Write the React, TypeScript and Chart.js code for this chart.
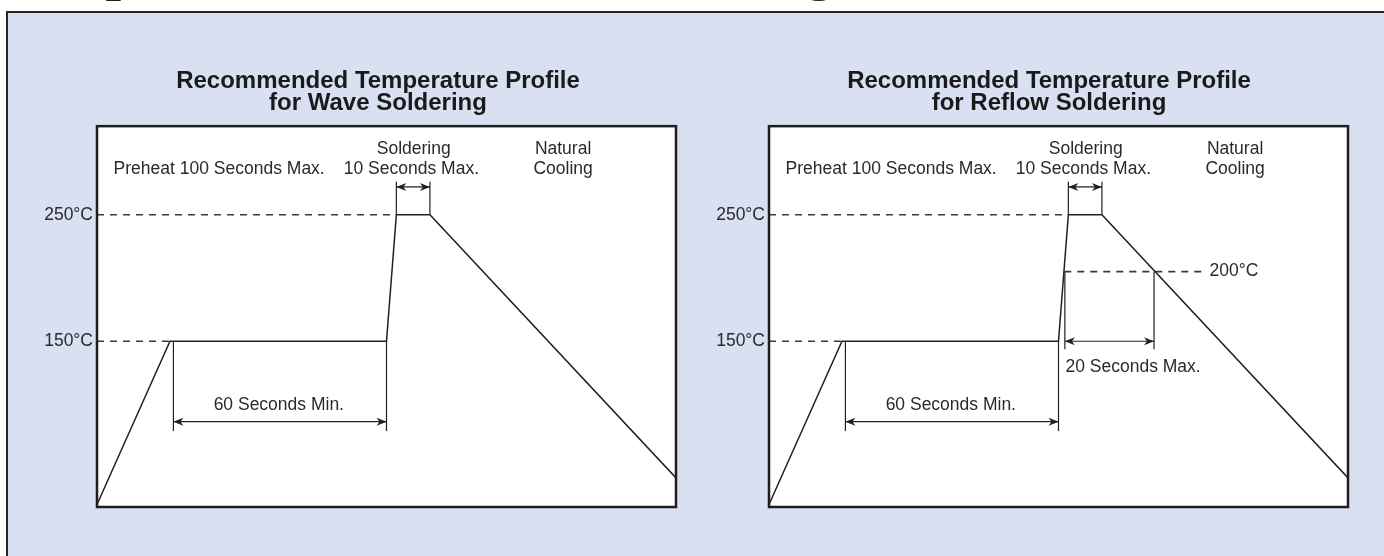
import React, { useEffect, useRef } from "react";
import { Chart, registerables } from "chart.js";

Chart.register(...registerables);

// ---- data (schematic time units 0–100 across the plot, temperature in °C) ----
const PROFILE_TIME = [0, 12.6, 50.0, 51.7, 57.5, 100];
const PROFILE_TEMP = [21, 150, 150, 250, 250, 42];

const TEMP_TICKS = [150, 250];
const TEMP_MIN = 19;
const TEMP_MAX = 320;
const TIME_MIN = 0;
const TIME_MAX = 100;

const PREHEAT_LEVEL = 150;
const PEAK_LEVEL = 250;
const REFLOW_LEVEL = 205; // the "200°C" guide as drawn in the schematic

// guide (dashed) lines: [x1, x2] at a level
const PREHEAT_GUIDE_TIME = [0, 12.4];
const PEAK_GUIDE_TIME = [0, 51.7];
const REFLOW_GUIDE_TIME = [51.0, 75.1];

// dimension extension lines
const DWELL_EXT_TIME = [13.2, 50.0];
const DWELL_EXT_TEMP = [150, 79];
const DWELL_ARROW_TEMP = 86.4;
const SOLDER_EXT_TIME = [51.7, 57.5];
const SOLDER_EXT_TEMP = [250, 276];
const SOLDER_ARROW_TEMP = 272;
const REFLOW_EXT_TIME = [51.1, 66.5];
const REFLOW_EXT_TEMP = [205, 143.6];
const REFLOW_ARROW_TEMP = 150;

const TITLE_LINE_1 = "Recommended Temperature Profile";
const WAVE_TITLE_2 = "for Wave Soldering";
const REFLOW_TITLE_2 = "for Reflow Soldering";

const FONT = "'Liberation Sans', Arial, Helvetica, sans-serif";
const INK = "#231f20";
const TEXT = "#2a2a2a";

type Label = { text: string; x: number; y: number; align: CanvasTextAlign };
type Arrow = { x1: number; x2: number; y: number };
type Line = { xs: number[]; ys: number[]; dashed?: boolean };

const COMMON_LABELS: Label[] = [
  { text: "Preheat 100 Seconds Max.", x: 21.1, y: 286, align: "center" },
  { text: "Soldering", x: 54.7, y: 301.8, align: "center" },
  { text: "10 Seconds Max.", x: 54.3, y: 286, align: "center" },
  { text: "Natural", x: 80.5, y: 301.8, align: "center" },
  { text: "Cooling", x: 80.5, y: 286, align: "center" },
  { text: "60 Seconds Min.", x: 31.4, y: 99.6, align: "center" },
];

const COMMON_LINES: Line[] = [
  { xs: PREHEAT_GUIDE_TIME, ys: [PREHEAT_LEVEL, PREHEAT_LEVEL], dashed: true },
  { xs: PEAK_GUIDE_TIME, ys: [PEAK_LEVEL, PEAK_LEVEL], dashed: true },
  { xs: [DWELL_EXT_TIME[0], DWELL_EXT_TIME[0]], ys: DWELL_EXT_TEMP },
  { xs: [DWELL_EXT_TIME[1], DWELL_EXT_TIME[1]], ys: DWELL_EXT_TEMP },
  { xs: [SOLDER_EXT_TIME[0], SOLDER_EXT_TIME[0]], ys: SOLDER_EXT_TEMP },
  { xs: [SOLDER_EXT_TIME[1], SOLDER_EXT_TIME[1]], ys: SOLDER_EXT_TEMP },
];

const COMMON_ARROWS: Arrow[] = [
  { x1: DWELL_EXT_TIME[0], x2: DWELL_EXT_TIME[1], y: DWELL_ARROW_TEMP },
  { x1: SOLDER_EXT_TIME[0], x2: SOLDER_EXT_TIME[1], y: SOLDER_ARROW_TEMP },
];

const REFLOW_LINES: Line[] = [
  { xs: REFLOW_GUIDE_TIME, ys: [REFLOW_LEVEL, REFLOW_LEVEL], dashed: true },
  { xs: [REFLOW_EXT_TIME[0], REFLOW_EXT_TIME[0]], ys: REFLOW_EXT_TEMP },
  { xs: [REFLOW_EXT_TIME[1], REFLOW_EXT_TIME[1]], ys: REFLOW_EXT_TEMP },
];
const REFLOW_ARROWS: Arrow[] = [
  { x1: REFLOW_EXT_TIME[0], x2: REFLOW_EXT_TIME[1], y: REFLOW_ARROW_TEMP },
];
const REFLOW_LABELS: Label[] = [
  { text: "200°C", x: 76.1, y: REFLOW_LEVEL, align: "left" },
  { text: "20 Seconds Max.", x: 51.2, y: 129.8, align: "left" },
];

const tempLabel = (v: number) => `${v}°C`;

function pts(xs: number[], ys: number[]) {
  return xs.map((x, i) => ({ x, y: ys[i] }));
}

function drawArrow(ctx: CanvasRenderingContext2D, xa: number, xb: number, y: number) {
  const head = 10;
  const half = 4;
  ctx.beginPath();
  ctx.moveTo(xa, y);
  ctx.lineTo(xb, y);
  ctx.stroke();
  ctx.beginPath();
  ctx.moveTo(xa, y);
  ctx.lineTo(xa + head, y - half);
  ctx.lineTo(xa + head * 0.7, y);
  ctx.lineTo(xa + head, y + half);
  ctx.closePath();
  ctx.fill();
  ctx.beginPath();
  ctx.moveTo(xb, y);
  ctx.lineTo(xb - head, y - half);
  ctx.lineTo(xb - head * 0.7, y);
  ctx.lineTo(xb - head, y + half);
  ctx.closePath();
  ctx.fill();
}

type Spec = {
  title2: string;
  lines: Line[];
  arrows: Arrow[];
  labels: Label[];
  padLeft: number;
  axisWidth: number;
};

function buildChart(canvas: HTMLCanvasElement, spec: Spec) {
  const datasets: any[] = [
    {
      data: pts(PROFILE_TIME, PROFILE_TEMP),
      showLine: true,
      borderColor: INK,
      borderWidth: 1.5,
      pointRadius: 0,
      tension: 0,
    },
    ...spec.lines.map((l) => ({
      data: pts(l.xs, l.ys),
      showLine: true,
      borderColor: l.dashed ? "#3a3a3a" : INK,
      borderWidth: l.dashed ? 1.6 : 1.2,
      borderDash: l.dashed ? [7, 6] : [],
      pointRadius: 0,
    })),
  ];

  const schematic = {
    id: "schematic",
    beforeDraw(chart: any) {
      const { ctx, chartArea: a } = chart;
      ctx.save();
      ctx.fillStyle = "#ffffff";
      ctx.fillRect(a.left, a.top, a.right - a.left, a.bottom - a.top);
      ctx.restore();
    },
    afterDraw(chart: any) {
      const { ctx, chartArea: a, scales } = chart;
      const xs = scales.x;
      const ys = scales.y;
      ctx.save();
      ctx.strokeStyle = INK;
      ctx.fillStyle = INK;
      ctx.lineWidth = 1.2;
      for (const ar of spec.arrows) {
        drawArrow(ctx, xs.getPixelForValue(ar.x1), xs.getPixelForValue(ar.x2), ys.getPixelForValue(ar.y));
      }
      ctx.fillStyle = TEXT;
      ctx.font = `17.5px ${FONT}`;
      ctx.textBaseline = "middle";
      for (const lb of spec.labels) {
        ctx.textAlign = lb.align;
        ctx.fillText(lb.text, xs.getPixelForValue(lb.x), ys.getPixelForValue(lb.y));
      }
      // temperature tick labels, placed by the y scale
      ctx.textAlign = "right";
      for (const t of ys.ticks) {
        ctx.fillText(tempLabel(t.value), a.left - 4, ys.getPixelForValue(t.value));
      }
      ctx.lineWidth = 2.5;
      ctx.strokeStyle = "#1e1e1e";
      ctx.strokeRect(a.left, a.top, a.right - a.left, a.bottom - a.top);
      ctx.restore();
    },
  };

  return new Chart(canvas, {
    type: "scatter",
    data: { datasets },
    plugins: [schematic],
    options: {
      animation: false,
      responsive: false,
      events: [],
      layout: { padding: { left: spec.padLeft, right: 30, top: 0, bottom: 3 } },
      plugins: {
        legend: { display: false },
        tooltip: { enabled: false },
        title: {
          display: true,
          text: [TITLE_LINE_1, spec.title2],
          color: "#1a1a1a",
          font: { family: FONT, size: 24, weight: "bold", lineHeight: 0.92 },
          padding: { top: 20, bottom: 12 },
        },
      },
      scales: {
        x: {
          type: "linear",
          min: TIME_MIN,
          max: TIME_MAX,
          display: false,
        },
        y: {
          type: "linear",
          min: TEMP_MIN,
          max: TEMP_MAX,
          grid: { display: false, drawTicks: false },
          border: { display: false },
          afterBuildTicks: (scale: any) => {
            scale.ticks = TEMP_TICKS.map((v) => ({ value: v }));
          },
          afterFit: (scale: any) => {
            scale.width = spec.axisWidth;
          },
          ticks: { display: false },
        },
      },
    } as any,
  });
}

export default function App() {
  const waveRef = useRef<HTMLCanvasElement>(null);
  const reflowRef = useRef<HTMLCanvasElement>(null);

  useEffect(() => {
    document.body.style.margin = "0";
    const a = buildChart(waveRef.current!, {
      title2: WAVE_TITLE_2,
      lines: COMMON_LINES,
      arrows: COMMON_ARROWS,
      labels: COMMON_LABELS,
      padLeft: 64,
      axisWidth: 17,
    });
    const b = buildChart(reflowRef.current!, {
      title2: REFLOW_TITLE_2,
      lines: [...COMMON_LINES, ...REFLOW_LINES],
      arrows: [...COMMON_ARROWS, ...REFLOW_ARROWS],
      labels: [...COMMON_LABELS, ...REFLOW_LABELS],
      padLeft: 62,
      axisWidth: 19,
    });
    return () => {
      a.destroy();
      b.destroy();
    };
  }, []);

  return (
    <div
      style={{
        position: "fixed",
        left: 0,
        top: 0,
        width: 1384,
        height: 556,
        overflow: "hidden",
        background: "#ffffff",
      }}
    >
      <div
        style={{
          position: "absolute",
          left: 0,
          top: -58,
          whiteSpace: "nowrap",
          fontFamily: "'Liberation Serif', 'Times New Roman', serif",
          fontWeight: "bold",
          fontSize: 56,
          lineHeight: "56px",
          letterSpacing: "0.6px",
          color: "#231f20",
        }}
      >
        Temperature Profile for Soldering
      </div>
      <div
        style={{
          position: "absolute",
          left: 6,
          top: 11,
          width: 1400,
          height: 560,
          boxSizing: "border-box",
          borderLeft: "2px solid #262626",
          borderTop: "2.5px solid #262626",
          background: "#d8e0f2",
        }}
      />
      <canvas
        ref={waveRef}
        width={690}
        height={460}
        style={{ position: "absolute", left: 16, top: 50 }}
      />
      <canvas
        ref={reflowRef}
        width={690}
        height={460}
        style={{ position: "absolute", left: 688, top: 50 }}
      />
    </div>
  );
}
